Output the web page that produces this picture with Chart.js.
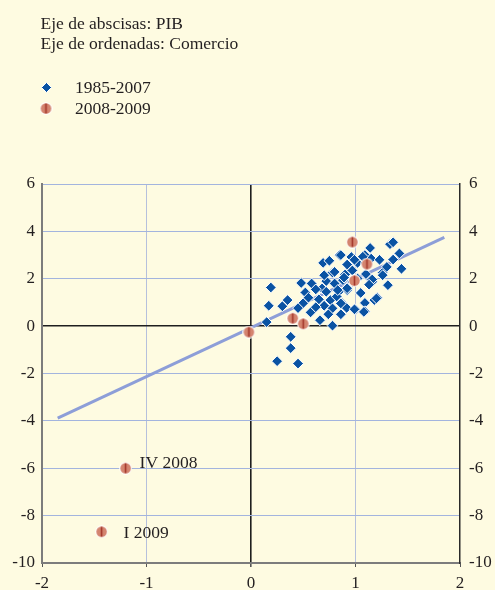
<!DOCTYPE html>
<html>
<head>
<meta charset="utf-8">
<script src="https://cdn.jsdelivr.net/npm/chart.js@4.4.0/dist/chart.umd.min.js"></script>
<style>
  html, body { margin: 0; padding: 0; background: #fefbe1; }
  canvas { display: block; }
</style>
</head>
<body>
<canvas id="chart" width="495" height="590"></canvas>
<script>
// PIB (abscisas) frente a comercio (ordenadas)

const xTicks = [-2, -1, 0, 1, 2];
const yTicks = [-10, -8, -6, -4, -2, 0, 2, 4, 6];

const seriesNames = ['1985-2007', '2008-2009'];

// 1985-2007
const pib8507 = [0.19, 0.17, 0.15, 0.30, 0.35, 0.38, 0.38, 0.25, 0.45, 0.48,
  0.52, 0.50, 0.45, 0.57, 0.58, 0.66, 0.70, 0.65, 0.68, 0.72,
  0.69, 0.75, 0.78, 0.845, 0.78, 0.86, 0.87, 0.915, 0.92, 0.84,
  0.80, 0.88, 0.90, 0.95, 0.96, 0.92, 1.02, 1.09, 1.14, 1.15,
  1.02, 1.00, 1.09, 1.09, 1.18, 1.21, 1.16, 1.12, 1.26, 1.31,
  1.33, 1.36, 1.42, 1.36, 1.44, 0.72, 0.70, 0.62, 0.55, 0.76,
  0.82, 0.97, 1.10, 1.26, 1.16, 0.92, 0.83, 0.89, 0.97, 0.80,
  1.07, 0.99, 0.86, 1.20, 0.99, 1.08, 0.86, 0.78, 0.74, 1.05,
  1.13, 0.62, 1.23, 1.30];
const comercio8507 = [1.63, 0.86, 0.17, 0.84, 1.10, -0.45, -0.93, -1.48, -1.58, 1.82,
  1.42, 0.97, 0.76, 0.58, 1.80, 0.25, 0.86, 1.13, 1.59, 1.90,
  2.67, 2.76, 2.26, 3.00, 0.02, 0.50, 0.98, 0.77, 1.52, 1.45,
  1.80, 1.94, 2.18, 2.43, 2.92, 2.60, 2.67, 3.00, 3.30, 2.85,
  2.01, 0.70, 0.98, 0.63, 1.10, 1.20, 1.87, 2.08, 2.26, 1.73,
  3.46, 3.54, 3.07, 2.81, 2.42, 1.45, 2.15, 0.80, 1.20, 1.10,
  1.25, 1.87, 2.20, 2.15, 1.97, 1.60, 1.52, 2.05, 2.35, 2.29,
  2.93, 2.80, 3.00, 1.17, 0.71, 0.60, 0.96, 0.75, 0.50, 1.40,
  1.75, 1.55, 2.80, 2.50];

// 2008-2009
const pib0809 = [-0.02, 0.40, 0.50, 0.97, 1.11, 0.99, -1.20, -1.43];
const comercio0809 = [-0.25, 0.33, 0.10, 3.55, 2.62, 1.92, -6.00, -8.68];
const etiquetas0809 = ['', '', '', '', '', '', 'IV 2008', 'I 2009'];

// recta de regresión
const tendenciaX = [-1.85, 1.85];
const tendenciaY = [-3.88, 3.75];

const FONT = '"Liberation Serif", "Times New Roman", serif';
const TEXT = '#231f20';
const GRID = '#a3b4de';

function toPoints(xs, ys) {
  return xs.map((x, i) => ({ x: x, y: ys[i] }));
}

// marcador rojo con raya vertical
function marcaRoja() {
  const c = document.createElement('canvas');
  c.width = 13; c.height = 13;
  const g = c.getContext('2d');
  g.beginPath(); g.arc(6.5, 6.5, 6.3, 0, Math.PI * 2); g.fillStyle = '#ffffff'; g.fill();
  g.beginPath(); g.arc(6.5, 6.5, 5.3, 0, Math.PI * 2); g.fillStyle = '#d4846f'; g.fill();
  g.fillStyle = '#a2352a';
  g.fillRect(5.7, 1.6, 1.6, 9.8);
  return c;
}
const redMark = marcaRoja();

// cabecera y leyenda
const headerPlugin = {
  id: 'header',
  afterDraw(chart) {
    const ctx = chart.ctx;
    ctx.save();
    ctx.fillStyle = TEXT;
    ctx.font = '17.5px ' + FONT;
    ctx.textBaseline = 'alphabetic';
    ctx.textAlign = 'left';
    ctx.fillText('Eje de abscisas: PIB', 40.5, 28.5);
    ctx.fillText('Eje de ordenadas: Comercio', 40.5, 48.5);
    ctx.fillText(seriesNames[0], 75, 93);
    ctx.fillText(seriesNames[1], 75, 114);

    // diamante azul
    const ds = chart.data.datasets[0];
    ctx.fillStyle = ds.backgroundColor;
    ctx.strokeStyle = ds.borderColor;
    ctx.lineWidth = 1;
    ctx.beginPath();
    ctx.moveTo(46.5 - 5, 87.5);
    ctx.lineTo(46.5, 87.5 - 5);
    ctx.lineTo(46.5 + 5, 87.5);
    ctx.lineTo(46.5, 87.5 + 5);
    ctx.closePath();
    ctx.fill();
    ctx.stroke();
    // círculo rojo
    ctx.drawImage(redMark, 46 - 6.5, 108.5 - 6.5);

    // etiquetas de los puntos
    const xs = chart.scales.x, ys = chart.scales.y;
    const off = { 6: [14, 0], 7: [22, 6] };
    ctx.fillStyle = TEXT;
    ctx.font = '17.5px ' + FONT;
    etiquetas0809.forEach((t, i) => {
      if (!t) return;
      const px = xs.getPixelForValue(pib0809[i]);
      const py = ys.getPixelForValue(comercio0809[i]);
      ctx.fillText(t, px + off[i][0], py + off[i][1]);
    });
    ctx.restore();
  }
};

const tickFont = { family: FONT, size: 17 };

new Chart(document.getElementById('chart'), {
  type: 'scatter',
  data: {
    datasets: [
      {
        label: seriesNames[0],
        data: toPoints(pib8507, comercio8507),
        pointStyle: 'rectRot',
        pointRadius: 5.4,
        backgroundColor: '#0a53a3',
        borderColor: '#ffffff',
        borderWidth: 1,
        order: 2
      },
      {
        label: seriesNames[1],
        data: toPoints(pib0809, comercio0809),
        pointStyle: redMark,
        pointRadius: 6,
        backgroundColor: '#d4846f',
        borderColor: '#ffffff',
        order: 1
      },
      {
        label: 'tendencia',
        type: 'line',
        data: toPoints(tendenciaX, tendenciaY),
        borderColor: '#8d9ed8',
        borderWidth: 3,
        pointRadius: 0,
        fill: false,
        order: 3
      }
    ]
  },
  options: {
    responsive: false,
    animation: false,
    devicePixelRatio: 1,
    layout: { padding: { top: 184, left: 0, right: 0, bottom: 0 } },
    plugins: {
      legend: { display: false },
      tooltip: { enabled: false }
    },
    scales: {
      x: {
        type: 'linear',
        min: -2, max: 2,
        afterFit: s => { s.height = 27; },
        afterBuildTicks: s => { s.ticks = xTicks.map(v => ({ value: v })); },
        ticks: { font: tickFont, color: TEXT, padding: 6, maxRotation: 0 },
        grid: {
          color: c => c.tick.value === 0 ? '#1e1e1e' : (Math.abs(c.tick.value) === 2 ? 'rgba(0,0,0,0)' : '#b6c0dc'),
          lineWidth: c => c.tick.value === 0 ? 1.6 : 1,
          tickColor: '#555555',
          tickLength: 4
        },
        border: { color: '#7c7c7c', width: 2 }
      },
      y: {
        type: 'linear',
        position: 'left',
        min: -10, max: 6,
        afterFit: s => { s.width = 42; },
        afterBuildTicks: s => { s.ticks = yTicks.map(v => ({ value: v })); },
        ticks: { font: tickFont, color: TEXT, padding: 7 },
        grid: {
          drawTicks: false,
          color: c => c.tick.value === 0 ? '#1e1e1e' : (c.tick.value === -10 ? 'rgba(0,0,0,0)' : GRID),
          lineWidth: c => c.tick.value === 0 ? 1.6 : 1
        },
        border: { color: '#7c7c7c', width: 2 }
      },
      y2: {
        type: 'linear',
        position: 'right',
        min: -10, max: 6,
        afterFit: s => { s.width = 35; },
        afterBuildTicks: s => { s.ticks = yTicks.map(v => ({ value: v })); },
        ticks: { font: tickFont, color: TEXT, padding: 9 },
        grid: { display: false, drawTicks: false },
        border: { color: '#2a2a2a', width: 1.5 }
      }
    }
  },
  plugins: [headerPlugin]
});
</script>
</body>
</html>
